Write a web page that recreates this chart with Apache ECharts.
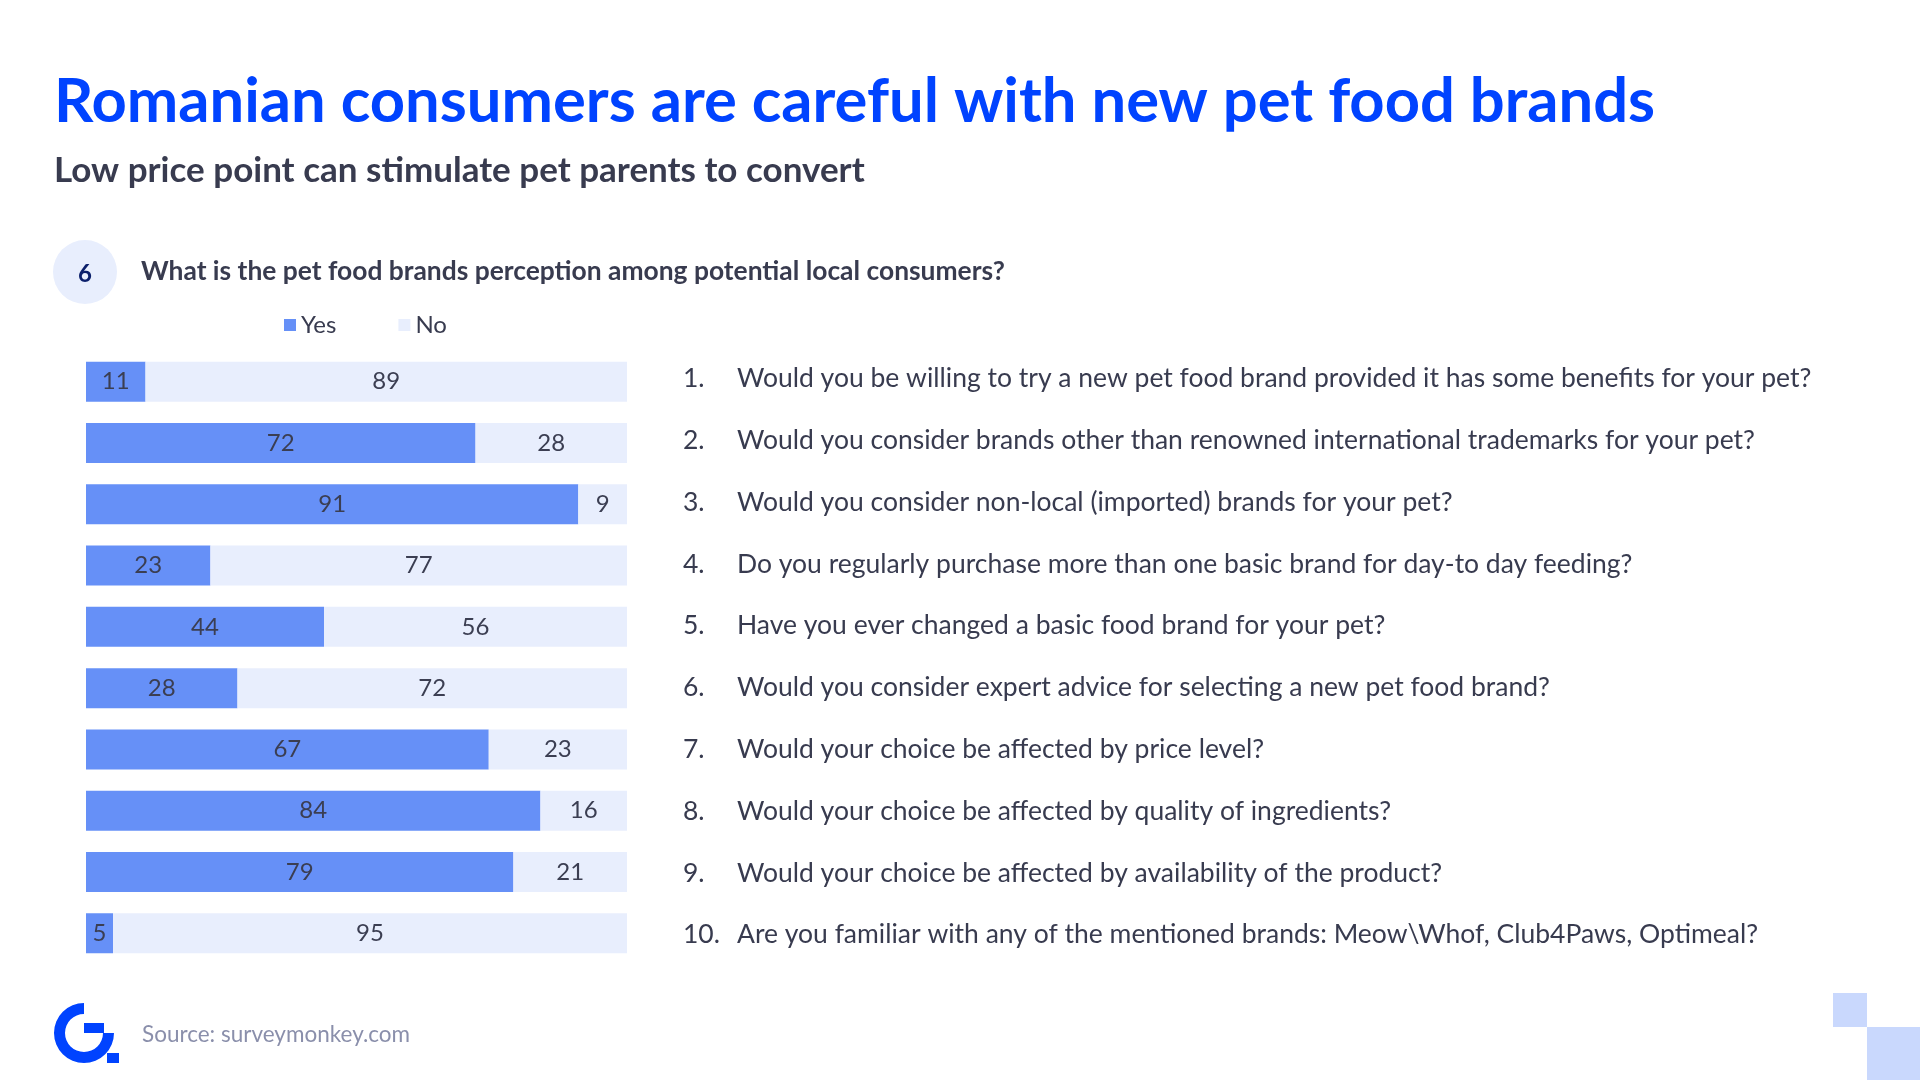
<!DOCTYPE html>
<html>
<head>
    <meta charset="utf-8">
    <title>Pet food brands perception</title>
    <script src="https://cdn.jsdelivr.net/npm/echarts@6/dist/echarts.min.js"></script>
    <style>
        html, body { margin: 0; padding: 0; background: #fff; }
        #chart1 { width: 1920px; height: 1080px; }
    </style>
</head>
<body>
<div id="chart1"></div>
<script>
    // 数据
    var categories = ['1', '2', '3', '4', '5', '6', '7', '8', '9', '10'];
    var yesValues = [11, 72, 91, 23, 44, 28, 67, 84, 79, 5];
    var noValues = [89, 28, 9, 77, 56, 72, 23, 16, 21, 95];
    var questions = [
        'Would you be willing to try a new pet food brand provided it has some benefits for your pet?',
        'Would you consider brands other than renowned international trademarks for your pet?',
        'Would you consider non-local (imported) brands for your pet?',
        'Do you regularly purchase more than one basic brand for day-to day feeding?',
        'Have you ever changed a basic food brand for your pet?',
        'Would you consider expert advice for selecting a new pet food brand?',
        'Would your choice be affected by price level?',
        'Would your choice be affected by quality of ingredients?',
        'Would your choice be affected by availability of the product?',
        'Are you familiar with any of the mentioned brands: Meow\\Whof, Club4Paws, Optimeal?'
    ];

    var FONT = 'Lato, "Open Sans", sans-serif';
    var DARK = '#383b4f';

    // 100% 堆叠
    var yesShare = yesValues.map(function (v, i) { return v / (v + noValues[i]) * 100; });
    var noShare = noValues.map(function (v, i) { return v / (yesValues[i] + v) * 100; });

    var gridTop = 351, gridBottom = 116;
    var band = (1080 - gridTop - gridBottom) / categories.length;

    var graphics = [
        { type: 'text', left: 54, top: 71, style: { text: 'Romanian consumers are careful with new pet food brands', fill: '#0043ff', font: 'bold 61.5px ' + FONT } },
        { type: 'text', left: 54, top: 153, style: { text: 'Low price point can stimulate pet parents to convert', fill: DARK, font: 'bold 35px ' + FONT } },
        { type: 'circle', shape: { cx: 85, cy: 272, r: 32 }, style: { fill: '#e8eefd' } },
        { type: 'text', x: 85, y: 274, style: { text: '6', fill: '#0b1f6b', font: 'bold 24px ' + FONT, align: 'center', verticalAlign: 'middle' } },
        { type: 'text', x: 141, y: 271, style: { text: 'What is the pet food brands perception among potential local consumers?', fill: DARK, font: 'bold 26.4px ' + FONT, verticalAlign: 'middle' } },
        { type: 'text', x: 142, y: 1035, style: { text: 'Source: surveymonkey.com', fill: '#8a8fab', font: '22.5px ' + FONT, verticalAlign: 'middle' } },
        // logo
        { type: 'sector', shape: { cx: 84, cy: 1033, r: 30, r0: 19, startAngle: 0, endAngle: Math.PI * 1.5, clockwise: true }, style: { fill: '#0043ff' } },
        { type: 'rect', shape: { x: 84, y: 1023, width: 20, height: 10 }, style: { fill: '#0043ff' } },
        { type: 'rect', shape: { x: 107, y: 1053, width: 12, height: 10 }, style: { fill: '#0043ff' } },
        // 右下角方块
        { type: 'rect', shape: { x: 1833, y: 993, width: 34, height: 34 }, style: { fill: '#c9d8fd' } },
        { type: 'rect', shape: { x: 1867, y: 1027, width: 53, height: 53 }, style: { fill: '#c9d8fd' } }
    ];

    questions.forEach(function (q, i) {
        var cy = gridTop + band * (i + 0.5) - 3 + i * 0.5;
        graphics.push({ type: 'text', x: 683, y: cy, style: { text: categories[i] + '.', fill: DARK, font: '26.5px ' + FONT, verticalAlign: 'middle' } });
        graphics.push({ type: 'text', x: 737, y: cy, style: { text: q, fill: DARK, font: '26.5px ' + FONT, verticalAlign: 'middle' } });
    });

    var myChart1 = echarts.init(document.getElementById('chart1'));

    var labelStyle = {
        show: true,
        position: 'inside',
        color: '#3b3e52',
        fontFamily: FONT,
        fontSize: 24
    };

    myChart1.setOption({
        animation: false,
        textStyle: { fontFamily: FONT },
        legend: {
            left: 279,
            top: 308,
            itemWidth: 12,
            itemHeight: 12,
            itemGap: 62,
            icon: 'rect',
            textStyle: { color: DARK, fontSize: 24, fontFamily: FONT },
            data: ['Yes', 'No']
        },
        grid: {
            left: 86,
            right: 1920 - 627,
            top: gridTop,
            bottom: gridBottom
        },
        xAxis: {
            type: 'value',
            min: 0,
            max: 100,
            show: false
        },
        yAxis: {
            type: 'category',
            data: categories,
            inverse: true,
            show: false
        },
        series: [{
            name: 'Yes',
            type: 'bar',
            stack: 'total',
            barWidth: 40,
            data: yesShare,
            itemStyle: { color: '#6690f7' },
            label: Object.assign({}, labelStyle, {
                formatter: function (p) { return yesValues[p.dataIndex]; }
            })
        }, {
            name: 'No',
            type: 'bar',
            stack: 'total',
            barWidth: 40,
            data: noShare,
            itemStyle: { color: '#e8eefd' },
            label: Object.assign({}, labelStyle, {
                formatter: function (p) { return noValues[p.dataIndex]; }
            })
        }],
        graphic: graphics
    });
</script>
</body>
</html>
